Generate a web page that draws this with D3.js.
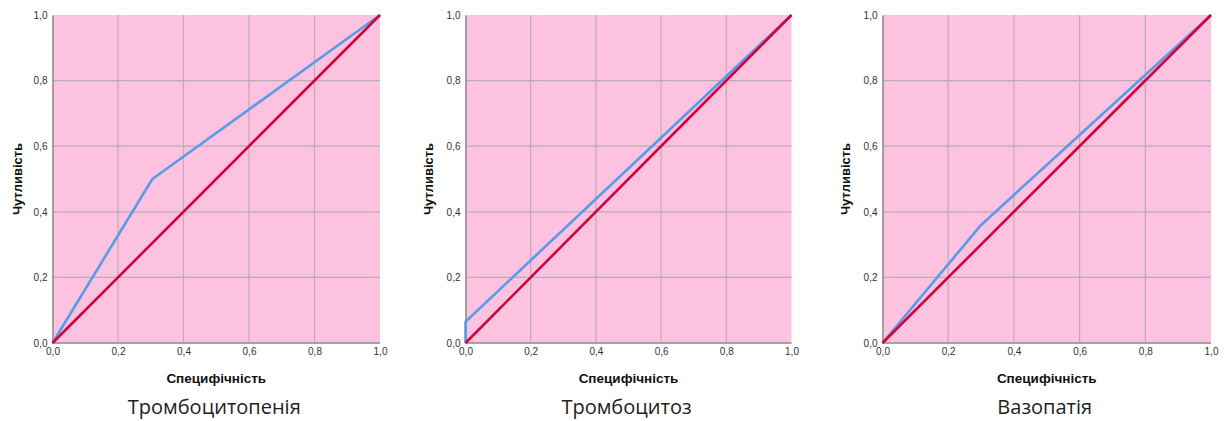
<!DOCTYPE html>
<html><head><meta charset="utf-8">
<script src="https://cdn.jsdelivr.net/npm/d3@7"></script>
<style>body{margin:0;background:#fff}svg{display:block}</style>
</head><body>
<script>
// Data
const panelTitles = ["Тромбоцитопенія", "Тромбоцитоз", "Вазопатія"];
const xTitle = "Специфічність";
const yTitle = "Чутливість";
const tickValues = [0, 0.2, 0.4, 0.6, 0.8, 1.0];
const rocX1 = [0, 0.305, 1];
const rocY1 = [0, 0.5, 1];
const rocX2 = [0, 0, 1];
const rocY2 = [0, 0.065, 1];
const rocX3 = [0, 0.3, 1];
const rocY3 = [0, 0.36, 1];
const refX = [0, 1];
const refY = [0, 1];

const rocs = [[rocX1, rocY1], [rocX2, rocY2], [rocX3, rocY3]];
const layout = [
  {left: 52.5, right: 380, yTitleX: 17},
  {left: 465.5, right: 791.5, yTitleX: 428},
  {left: 882.5, right: 1211, yTitleX: 845}
];
const plotTop = 15, plotBottom = 343;

const svg = d3.select("body").append("svg").attr("width", 1226).attr("height", 421);
const fmt = d => d3.format(".1f")(d).replace(".", ",");

layout.forEach((L, i) => {
  const x = d3.scaleLinear().domain([0, 1]).range([L.left, L.right]);
  const y = d3.scaleLinear().domain([0, 1]).range([plotBottom, plotTop]);
  const g = svg.append("g");
  g.append("rect").attr("x", L.left).attr("y", plotTop).attr("width", L.right - L.left).attr("height", plotBottom - plotTop).attr("fill", "#fdc2e0");
  // grid
  g.selectAll(".gx").data(tickValues.slice(1, -1)).join("line")
    .attr("x1", d => x(d)).attr("x2", d => x(d)).attr("y1", plotTop).attr("y2", plotBottom)
    .attr("stroke", "#b9acb4").attr("stroke-width", 1.2);
  g.selectAll(".gy").data(tickValues.slice(1, -1)).join("line")
    .attr("y1", d => y(d)).attr("y2", d => y(d)).attr("x1", L.left).attr("x2", L.right)
    .attr("stroke", "#b9acb4").attr("stroke-width", 1.2);
  // axes
  const xa = g.append("g").attr("transform", `translate(0,${plotBottom})`)
    .call(d3.axisBottom(x).tickValues(tickValues).tickFormat(fmt).tickSize(0).tickPadding(5));
  const ya = g.append("g").attr("transform", `translate(${L.left},0)`)
    .call(d3.axisLeft(y).tickValues(tickValues).tickFormat(fmt).tickSize(0).tickPadding(5));
  [xa, ya].forEach(a => {
    a.select(".domain").attr("stroke", "#8a8a8a").attr("stroke-width", 1.5);
    a.selectAll("text").attr("font-family", "Liberation Sans, Arial, sans-serif").attr("font-size", 10).attr("fill", "#333");
  });
  xa.select(".domain").remove();
  g.append("line").attr("x1", L.left).attr("x2", L.right).attr("y1", plotBottom).attr("y2", plotBottom).attr("stroke", "#8a8a8a").attr("stroke-width", 1.5);
  // lines
  const line = d3.line().x(d => x(d[0])).y(d => y(d[1]));
  const [rx, ry] = rocs[i];
  g.append("path").datum(rx.map((v, k) => [v, ry[k]])).attr("d", line)
    .attr("fill", "none").attr("stroke", "#5a9be9").attr("stroke-width", 2.6).attr("stroke-linejoin", "round");
  g.append("path").datum(refX.map((v, k) => [v, refY[k]])).attr("d", line)
    .attr("fill", "none").attr("stroke", "#d4003c").attr("stroke-width", 2.6);
  // titles
  const cx = (L.left + L.right) / 2;
  g.append("text").attr("x", cx).attr("y", 383).attr("text-anchor", "middle")
    .attr("font-family", "Liberation Sans, Arial, sans-serif").attr("font-weight", "bold").attr("font-size", 13.5).attr("fill", "#111").text(xTitle);
  g.append("text").attr("transform", `translate(${L.yTitleX + 4.5},${(plotTop + plotBottom) / 2}) rotate(-90)`).attr("text-anchor", "middle")
    .attr("font-family", "Liberation Sans, Arial, sans-serif").attr("font-weight", "bold").attr("font-size", 13).attr("fill", "#111").text(yTitle);
  g.append("text").attr("x", cx - 2).attr("y", 414).attr("text-anchor", "middle")
    .attr("font-family", "Open Sans, Noto Sans, sans-serif").attr("font-size", 20).attr("fill", "#222").text(panelTitles[i]);
});
</script>
</body></html>
